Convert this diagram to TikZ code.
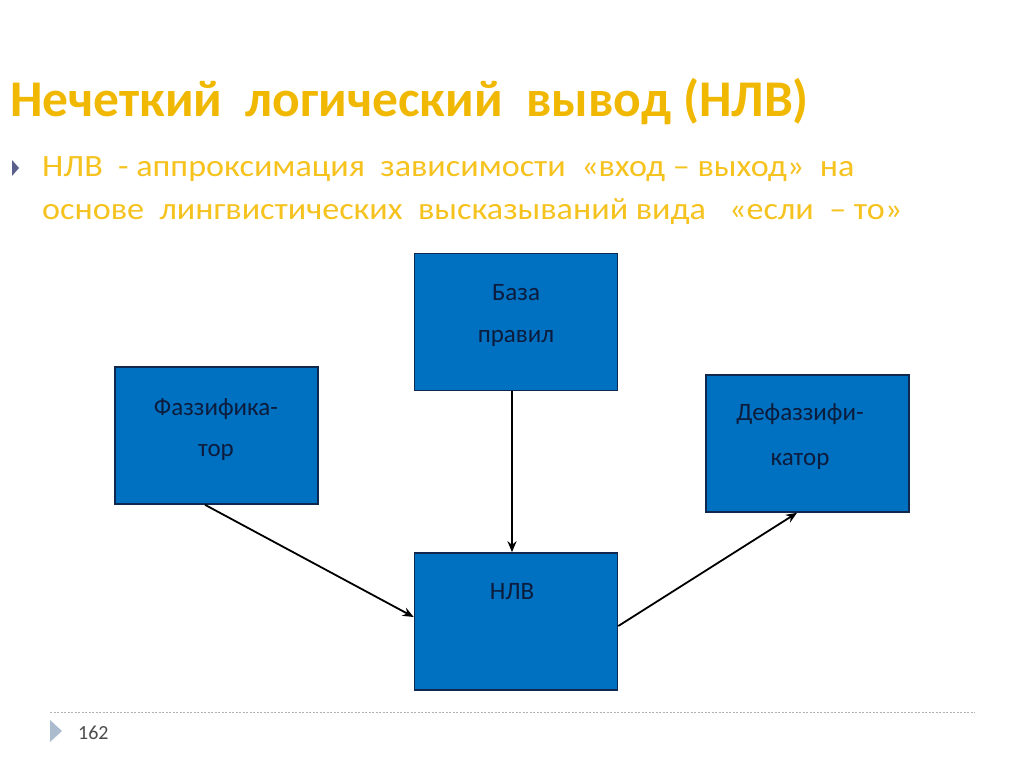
\documentclass[tikz,border=0pt]{standalone}
\usepackage{fontspec}
\setmainfont{Carlito}
\newfontfamily\bodyfont[FakeStretch=1.1]{Carlito}
\usetikzlibrary{positioning,arrows.meta}

\definecolor{titleyellow}{RGB}{240,184,0}
\definecolor{textyellow}{RGB}{246,194,30}
\definecolor{boxblue}{RGB}{0,112,192}
\definecolor{boxline}{RGB}{16,40,78}
\definecolor{boxtext}{RGB}{12,28,60}
\definecolor{bulletgray}{RGB}{90,95,140}
\definecolor{footgray}{RGB}{170,188,205}

\tikzset{
  block/.style={draw=boxline, fill=boxblue, line width=1.6pt, inner sep=0pt,
    minimum width=203pt, minimum height=137pt},
  blocktext/.style={text=boxtext, font=\fontsize{25}{30}\selectfont},
  link/.style={-{Stealth[length=11pt,width=9pt]}, line width=1.8pt},
}

\begin{document}
\begin{tikzpicture}[x=1pt,y=-1pt]

% Page
\useasboundingbox[fill=white] (0,0) rectangle (1024,767);

% Title
\node[anchor=base west, inner sep=0pt, text=titleyellow,
  font=\fontsize{51.5}{60}\selectfont\bfseries] (title) at (10,117)
  {Нечеткий\ \ логический\ \ вывод (НЛВ)};

% Bullet
\fill[bulletgray] (12,160) -- (19,168) -- (12,176) -- cycle;
\node[anchor=base west, inner sep=0pt, text=textyellow,
  font=\bodyfont\fontsize{31}{36}\selectfont] (line1) at (42,177)
  {НЛВ\ \ - аппроксимация\ \ зависимости\ \ «вход – выход»\ \ на};
\node[anchor=base west, inner sep=0pt, text=textyellow,
  font=\bodyfont\fontsize{31}{36}\selectfont] (line2) at (42,220)
  {основе\ \ лингвистических\ \ высказываний вида\ \ \ «если\ \ – то»};

% Blocks
\node[block] (rules)  at (516,322)   {};
\node[block] (fuzz)   at (216.5,435.5) {};
\node[block] (defuzz) at (807.5,443.5) {};
\node[block] (nlv)    at (516,621.5) {};

% Block labels
\node[blocktext] (rulesA)  at (516,293) {База};
\node[blocktext] (rulesB)  at (516,338) {правил};
\node[blocktext] (fuzzA)   at (216,409) {Фаззифика-};
\node[blocktext] (fuzzB)   at (216,452) {тор};
\node[blocktext] (defuzzA) at (800,414) {Дефаззифи-};
\node[blocktext] (defuzzB) at (800,461) {катор};
\node[blocktext] (nlvA)    at (512,592) {НЛВ};

% Links
\draw[link] ([shift={(-4,0)}]rules.south) -- ([shift={(-4,0)}]nlv.north);
\draw[link] ([shift={(-11.5,0)}]fuzz.south) -- ([shift={(0,-4.5)}]nlv.west);
\draw[link] ([shift={(0,4.5)}]nlv.east) -- ([shift={(-10.5,0)}]defuzz.south);

% Footer
\draw[gray!60, dash pattern=on 2pt off 1.5pt, line width=0.8pt] (50,712) -- (975,712);
\fill[footgray] (50,720) -- (62,731) -- (50,742) -- cycle;
\node[anchor=base west, inner sep=0pt, text=black!70,
  font=\fontsize{20}{24}\selectfont] (page) at (78,739) {162};

\end{tikzpicture}
\end{document}
